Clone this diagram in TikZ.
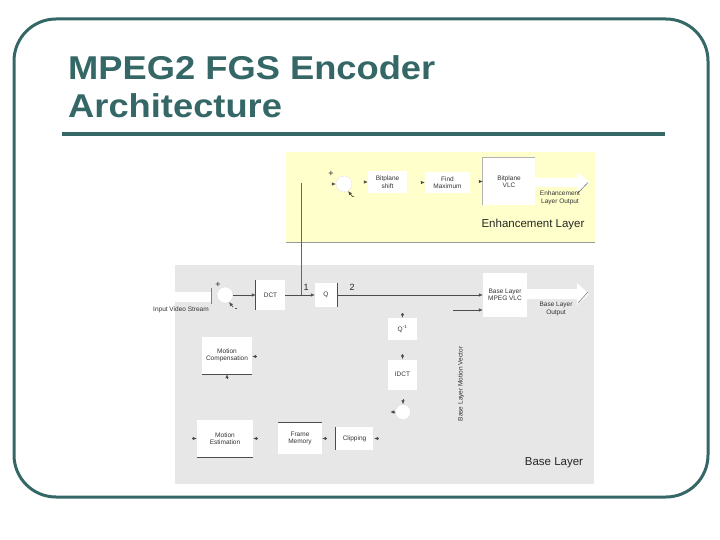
\documentclass[tikz,border=0pt]{standalone}
\usepackage{fontspec}
\setmainfont{Liberation Sans}
\usepackage{xcolor}
\usepackage{graphicx}
\usetikzlibrary{arrows.meta,calc}

\definecolor{slateteal}{HTML}{356767}
\definecolor{enhyellow}{HTML}{FFFFCC}
\definecolor{basegray}{HTML}{E7E7E7}

\tikzset{
    blk/.style={fill=white,inner sep=0pt,align=center,text=black!80,font=\fontsize{6.5}{7.5}\selectfont},
    sumc/.style={circle,fill=white,draw=gray!50,densely dotted,minimum size=16pt,inner sep=0pt},
    wire/.style={draw=black!60,line width=0.6pt},
    arr/.style={draw=black!70,line width=0.6pt,-{Latex[length=4pt,width=3.5pt]}},
    side/.style={draw=black!70,line width=0.8pt},
    lbl/.style={align=center,text=black!80,font=\fontsize{6.5}{7.5}\selectfont},
    layer/.style={text=black!85,font=\fontsize{11.5}{13}\selectfont},
    sign/.style={inner sep=0pt,text=black!85,font=\fontsize{9}{9}\selectfont}
}

\begin{document}
\begin{tikzpicture}[x=1pt,y=-1pt]
    \useasboundingbox (0,0) rectangle (720,540);

    % slide frame and title
    \draw[slateteal,line width=3pt,rounded corners=42pt] (14,19) rectangle (708,497);
    \node[anchor=base west,inner sep=0pt,text=slateteal,font=\fontsize{33}{33}\selectfont\bfseries] (title1) at (68,80) {\scalebox{1.1}[1]{MPEG2 FGS Encoder}};
    \node[anchor=base west,inner sep=0pt,text=slateteal,font=\fontsize{33}{33}\selectfont\bfseries] (title2) at (68,118) {\scalebox{1.1}[1]{Architecture}};
    \draw[slateteal,line width=3.5pt] (62,134) -- (665,134);

    % layer panels
    \fill[enhyellow] (286,152) rectangle (595,243);
    \draw[gray!80,line width=0.7pt] (286,242) -- (595,242);
    \fill[basegray] (175,265) rectangle (594,484);

    % enhancement layer
    \node[sumc] (esum) at (344,184) {};
    \node[sign] at (331,174) {+};
    \node[sign] at (353,198) {-};
    \node[blk,minimum width=39pt,minimum height=22pt] (shift) at (387.5,182) {Bitplane\\shift};
    \node[blk,minimum width=45pt,minimum height=21pt] (fmax) at (447.5,182.5) {Find\\Maximum};
    \node[blk,minimum width=52pt,minimum height=47pt] (bvlc) at (509,181.5) {Bitplane\\VLC};
    \draw[gray!60,line width=0.7pt] (bvlc.south west) -- (bvlc.north west) -- (bvlc.north east);

    \fill[white] (535,178) -- (577,178) -- (577,172) -- (590,182.5) -- (577,193) -- (577,187) -- (535,187) -- cycle;
    \draw[gray,line width=0.6pt] (578,193) -- (588,182.5);
    \node[lbl] (eout) at (560,198) {Enhancement\\Layer Output};
    \node[layer] (elayer) at (533,225) {Enhancement Layer};

    \draw[arr] ($(esum.west)+(-4,0)$) -- (esum.west);
    \draw[arr] ($(esum.-60)+(4,5)$) -- (esum.-60);
    \draw[arr] ($(shift.west)+(-4,0)$) -- (shift.west);
    \draw[arr] ($(fmax.west)+(-4,0)$) -- (fmax.west);
    \draw[arr] ($(bvlc.west)+(-4,0)$) -- (bvlc.west);

    % base layer
    \fill[white] (150,292) rectangle (211,302);
    \draw[gray,line width=0.6pt] (211,288) -- (211,304);
    \node[lbl] (vin) at (181,310) {Input Video Stream};

    \node[sumc] (bsum) at (225,295) {};
    \node[sign] at (218,285) {+};
    \node[sign] at (236,310) {-};
    \node[blk,minimum width=29pt,minimum height=30pt] (dct) at (270.5,295) {DCT};
    \node[blk,minimum width=22pt,minimum height=24pt] (q) at (326,295) {Q};
    \node[blk,minimum width=44pt,minimum height=44pt] (vlc) at (505,295) {Base Layer\\MPEG VLC};
    \node[blk,minimum width=29pt,minimum height=22pt] (qinv) at (402.5,329) {Q\textsuperscript{-1}};
    \node[blk,minimum width=29pt,minimum height=30pt] (idct) at (402.5,374.5) {IDCT};
    \node[sumc,minimum size=15pt] (rsum) at (403,412) {};
    \node[blk,minimum width=37pt,minimum height=23pt] (clip) at (354.5,438.5) {Clipping};
    \node[blk,minimum width=44pt,minimum height=31pt] (fmem) at (300,438.5) {Frame\\Memory};
    \node[blk,minimum width=56pt,minimum height=37pt] (mest) at (225,438.5) {Motion\\Estimation};
    \node[blk,minimum width=50pt,minimum height=37pt] (mcomp) at (227,355.5) {Motion\\Compensation};

    \draw[side] (dct.north west) -- (dct.south west);
    \draw[side] (q.north east) -- (q.south east);
    \draw[side] (mcomp.south west) -- (mcomp.south east);
    \draw[side] (mest.south west) -- (mest.south east);
    \draw[side] (fmem.north west) -- (fmem.north east);
    \draw[side] (clip.north west) -- (clip.south west);

    \node[sign] (n1) at (306,287) {1};
    \node[sign] (n2) at (352,287) {2};

    \coordinate (split) at (301,295);
    \coordinate (eup) at (301,183);
    \coordinate (mvin) at (453,310);

    \draw[arr] (bsum.east) -- (dct.west);
    \draw[arr] (dct.east) -- (q.west);
    \draw[wire] (split) -- (eup);
    \draw[arr] (q.east) -- (vlc.west);
    \draw[arr] (mvin) -- (mvin -| vlc.west);
    \draw[arr] ($(bsum.-60)+(4,5)$) -- (bsum.-60);

    \draw[arr] ($(qinv.north)+(0,-5)$) -- (qinv.north);
    \draw[arr] ($(idct.north)+(0,-5)$) -- (idct.north);
    \draw[arr] ($(rsum.north)+(0,-5)$) -- (rsum.north);
    \draw[arr] (rsum.west) -- ($(rsum.west)+(-5,0)$);
    \draw[arr] ($(clip.east)+(6,0)$) -- ($(clip.east)+(1,0)$);
    \draw[arr] ($(fmem.east)+(5,0)$) -- (fmem.east);
    \draw[arr] ($(mest.east)+(5,0)$) -- (mest.east);
    \draw[arr] ($(mest.west)+(-5,0)$) -- (mest.west);
    \draw[arr] ($(mcomp.east)+(5,1)$) -- ($(mcomp.east)+(0,1)$);
    \draw[arr] ($(mcomp.south)+(0,5)$) -- (mcomp.south);

    \fill[white] (527,289) -- (577,289) -- (577,283) -- (589,294) -- (577,305) -- (577,299) -- (527,299) -- cycle;
    \draw[gray,line width=0.6pt] (578,303) -- (588,292);
    \node[lbl] (bout) at (556,309) {Base Layer\\Output};

    \node[lbl,rotate=90] (mvlbl) at (461,384) {Base Layer Motion Vector};
    \node[layer] (blayer) at (554,463) {Base Layer};
\end{tikzpicture}
\end{document}
